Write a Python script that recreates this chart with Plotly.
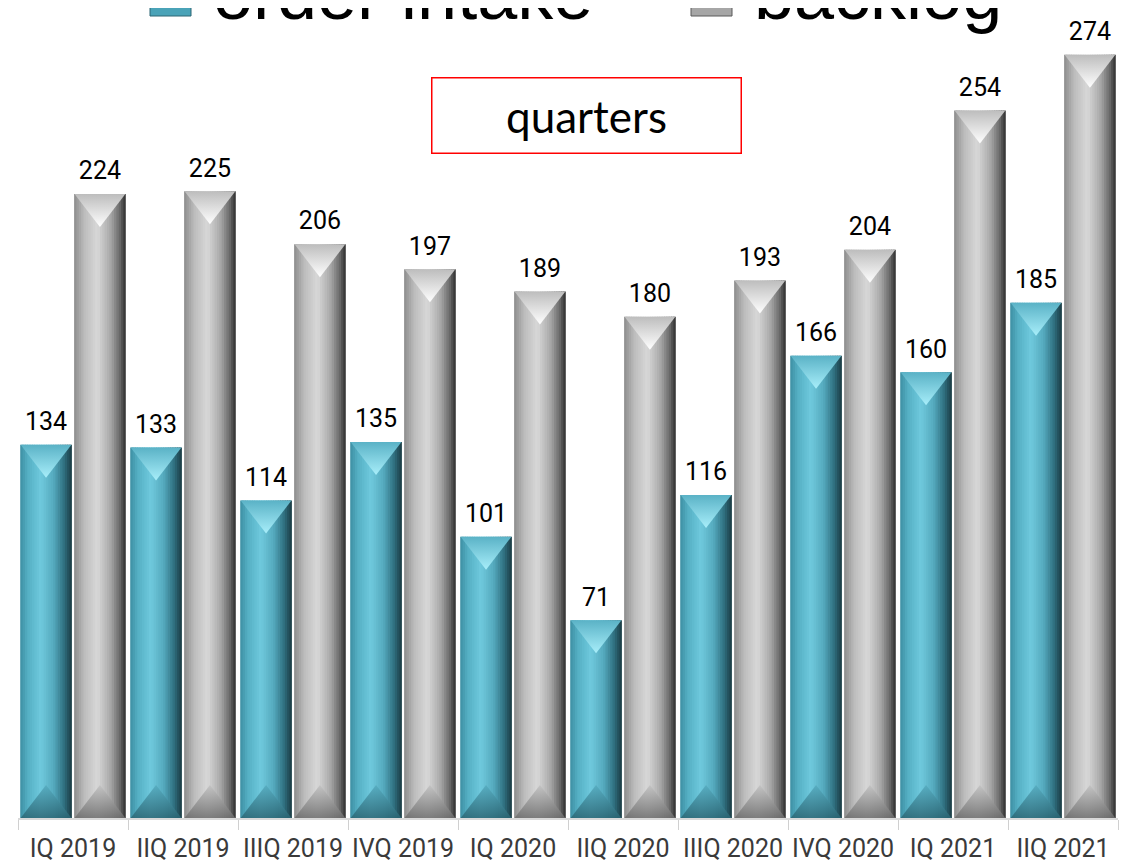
import plotly.graph_objects as go

# ---------------- data ----------------
categories = ["IQ 2019", "IIQ 2019", "IIIQ 2019", "IVQ 2019", "IQ 2020",
              "IIQ 2020", "IIIQ 2020", "IVQ 2020", "IQ 2021", "IIQ 2021"]
order_intake = [134, 133, 114, 135, 101, 71, 116, 166, 160, 185]
backlog = [224, 225, 206, 197, 189, 180, 193, 204, 254, 274]

# ---------------- style ----------------
PAGE_OFF = 8                 # default body margin of the html page
W, H = 1137 - PAGE_OFF, 863 - PAGE_OFF
M_L, M_R, M_T, M_B = 10, 19, 2, 45
Y_MAX = 290.1
plot_w = W - M_L - M_R
plot_h = H - M_T - M_B
px_per_unit = plot_h / Y_MAX


def px_x(p):  # screen pixel -> paper x
    return (p - PAGE_OFF - M_L) / plot_w


def px_y(p):  # screen pixel -> paper y
    return (H - M_B - (p - PAGE_OFF)) / plot_h


BAR_W = 0.47
N_STRIPS = 22

teal_stops = [(0, (62, 143, 163)), (0.15, (85, 176, 196)), (0.4, (111, 201, 221)),
              (0.65, (84, 169, 189)), (0.85, (47, 111, 127)), (1, (27, 58, 66))]
gray_stops = [(0, (140, 140, 140)), (0.2, (189, 189, 189)), (0.45, (216, 216, 216)),
              (0.7, (169, 169, 169)), (0.88, (107, 107, 107)), (1, (46, 46, 46))]


def interp(stops, t):
    for (t0, c0), (t1, c1) in zip(stops[:-1], stops[1:]):
        if t0 <= t <= t1:
            f = (t - t0) / (t1 - t0) if t1 > t0 else 0
            c = [round(a + (b - a) * f) for a, b in zip(c0, c1)]
            return "rgb(%d,%d,%d)" % tuple(c)
    return "rgb(%d,%d,%d)" % stops[-1][1]


xs = list(range(len(categories)))
fig = go.Figure()


def add_series(values, name, base_offset, stops, legend_strip, legend_id):
    sw = BAR_W / N_STRIPS
    for j in range(N_STRIPS):
        t = (j + 0.5) / N_STRIPS
        last = j == N_STRIPS - 1
        fig.add_trace(go.Bar(
            x=xs, y=values, name=name,
            offset=base_offset + j * sw,
            width=sw if last else sw * 1.35,
            marker=dict(color=interp(stops, t), line=dict(width=0)),
            showlegend=(j == legend_strip),
            legend=legend_id,
            legendgroup=name,
            hoverinfo="skip",
        ))


add_series(order_intake, "order intake", -0.48, teal_stops, 8, "legend")
add_series(backlog, "backlog", 0.01, gray_stops, 9, "legend2")

teal_c = [x - 0.48 + BAR_W / 2 for x in xs]
gray_c = [x + 0.01 + BAR_W / 2 for x in xs]

# top bevels
TRI = 44
shift = (TRI / 4) / px_per_unit
for cx, vals, col, gcol in [(teal_c, order_intake, "#5ab2c6", "#a8eefa"),
                            (gray_c, backlog, "#bdbdbd", "#ffffff")]:
    fig.add_trace(go.Scatter(
        x=cx, y=[v - shift for v in vals], mode="markers",
        marker=dict(symbol="triangle-down", size=TRI, color=col,
                    gradient=dict(type="vertical", color=gcol), line=dict(width=0)),
        showlegend=False, hoverinfo="skip"))

# bottom bevels
for cx, col, gcol in [(teal_c, "#55abbf", "#2c6674"),
                      (gray_c, "#c2c2c2", "#6e6e6e")]:
    fig.add_trace(go.Scatter(
        x=cx, y=[shift] * len(cx), mode="markers",
        marker=dict(symbol="triangle-up", size=TRI, color=col, opacity=0.85,
                    gradient=dict(type="vertical", color=gcol), line=dict(width=0)),
        showlegend=False, hoverinfo="skip"))

# value labels
for cx, vals in [(teal_c, order_intake), (gray_c, backlog)]:
    fig.add_trace(go.Scatter(
        x=cx, y=vals, mode="markers+text", text=[str(v) for v in vals],
        textposition="top center",
        textfont=dict(family="Roboto", size=25, color="#000000"),
        marker=dict(size=12, opacity=0),
        showlegend=False, hoverinfo="skip", cliponaxis=False))

fig.add_annotation(
    x=px_x(586), y=px_y(115), xanchor="center", yanchor="middle",
    xref="paper", yref="paper", text="quarters", showarrow=False,
    font=dict(family="Lato", size=44, color="#000000"),
    width=302, height=68, borderpad=3, borderwidth=1.5,
    bordercolor="#ff0000", bgcolor="#ffffff")

# large legend swatches (legend is partly cut off at the top edge)
for x0, x1, fill, line in [(150, 191, "#4aa3b8", "#2c6675"),
                           (691, 732, "#a6a6a6", "#5a5a5a")]:
    fig.add_shape(type="rect", xref="paper", yref="paper",
                  x0=px_x(x0), x1=px_x(x1), y0=px_y(16), y1=px_y(-20),
                  fillcolor=fill, line=dict(color=line, width=1), layer="above")

legend_common = dict(orientation="h", xanchor="left", y=1.024, yanchor="middle",
                     font=dict(family="Liberation Sans", size=72, color="#000000"),
                     bgcolor="rgba(0,0,0,0)")

fig.update_layout(
    width=W, height=H,
    margin=dict(l=M_L, r=M_R, t=M_T, b=M_B, autoexpand=False),
    barmode="overlay",
    plot_bgcolor="#ffffff", paper_bgcolor="#ffffff",
    legend=dict(x=px_x(173), **legend_common),
    legend2=dict(x=px_x(714), **legend_common),
    xaxis=dict(range=[-0.5, len(categories) - 0.5], tickvals=xs, ticktext=categories,
               ticks="outside", ticklen=7, tickcolor="rgba(0,0,0,0)",
               tickfont=dict(family="Roboto", size=25, color="#3a3a3a"),
               showline=True, linecolor="#d9d9d9", linewidth=1.5,
               showgrid=False, zeroline=False,
               minor=dict(ticks="outside", ticklen=10, tickcolor="#d0d0d0",
                          tick0=0.5, dtick=1, showgrid=False)),
    yaxis=dict(range=[0, Y_MAX], visible=False, showgrid=False, zeroline=False),
)

fig.write_html("out.html")
